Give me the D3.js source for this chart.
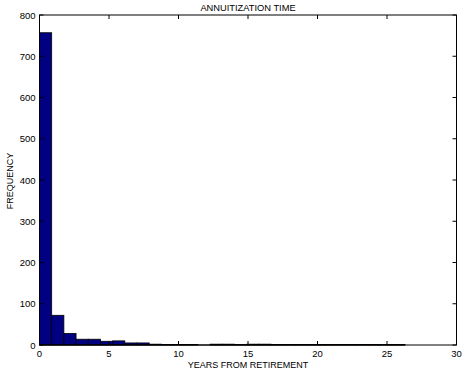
<!DOCTYPE html>
<html>
<head>
<meta charset="utf-8">
<script src="https://cdn.jsdelivr.net/npm/d3@7"></script>
<style>
  body { margin: 0; background: #fff; }
  svg { display: block; font-family: "Liberation Sans", Arial, sans-serif; }
</style>
</head>
<body>
<svg id="viz" width="463" height="377"></svg>
<script>
// histogram of years from retirement to annuitization, 30 bins over 0..26.3
const binMax = 26.3;
const counts = [757, 72, 28, 14, 14, 9, 10, 5, 5, 2,
                1, 1, 1, 0, 2, 2, 1, 2, 2, 1,
                1, 1, 1, 1, 1, 1, 1, 1, 1, 1];
const xTicks = [0, 5, 10, 15, 20, 25, 30];
const yTicks = [0, 100, 200, 300, 400, 500, 600, 700, 800];

const svg = d3.select('#viz');
const m = { left: 39.5, right: 456.5, top: 15, bottom: 345 };

const x = d3.scaleLinear().domain([0, 30]).range([m.left, m.right]);
const y = d3.scaleLinear().domain([0, 800]).range([m.bottom, m.top]);

const w = binMax / counts.length;
const bins = counts.map((c, i) => ({ x0: i * w, x1: (i + 1) * w, n: c }));

// bars
svg.append('g').selectAll('rect').data(bins.filter(d => d.n > 0)).enter().append('rect')
  .attr('x', d => x(d.x0))
  .attr('y', d => y(d.n))
  .attr('width', d => x(d.x1) - x(d.x0))
  .attr('height', d => y(0) - y(d.n))
  .attr('fill', '#000080')
  .attr('stroke', '#000')
  .attr('stroke-width', 0.8);

// baseline for empty bins
svg.append('line').attr('x1', x(0)).attr('x2', x(binMax)).attr('y1', y(0)).attr('y2', y(0))
  .attr('stroke', '#000').attr('stroke-width', 1);

// box
svg.append('rect').attr('x', m.left).attr('y', m.top)
  .attr('width', m.right - m.left).attr('height', m.bottom - m.top)
  .attr('fill', 'none').attr('stroke', '#000').attr('stroke-width', 1);

const tl = 4;
const g = svg.append('g').attr('stroke', '#000').attr('stroke-width', 1);
xTicks.forEach(t => {
  g.append('line').attr('x1', x(t)).attr('x2', x(t)).attr('y1', m.bottom).attr('y2', m.bottom - tl);
  g.append('line').attr('x1', x(t)).attr('x2', x(t)).attr('y1', m.top).attr('y2', m.top + tl);
});
yTicks.forEach(t => {
  g.append('line').attr('x1', m.left).attr('x2', m.left + tl).attr('y1', y(t)).attr('y2', y(t));
  g.append('line').attr('x1', m.right).attr('x2', m.right - tl).attr('y1', y(t)).attr('y2', y(t));
});

const fs = '9.5px';
svg.append('g').selectAll('text').data(xTicks).enter().append('text')
  .attr('x', d => x(d)).attr('y', m.bottom + 12)
  .attr('text-anchor', 'middle').style('font-size', fs).text(d => d);

svg.append('g').selectAll('text').data(yTicks).enter().append('text')
  .attr('x', m.left - 4).attr('y', d => y(d) + 3.5)
  .attr('text-anchor', 'end').style('font-size', fs).text(d => d);

svg.append('text').attr('x', 248).attr('y', 11).attr('text-anchor', 'middle')
  .style('font-size', '9.3px').text('ANNUITIZATION TIME');
svg.append('text').attr('x', 248).attr('y', 368).attr('text-anchor', 'middle')
  .style('font-size', '9px').text('YEARS FROM RETIREMENT');
svg.append('text').attr('transform', 'translate(13,181) rotate(-90)').attr('text-anchor', 'middle')
  .style('font-size', '9px').text('FREQUENCY');
</script>
</body>
</html>
